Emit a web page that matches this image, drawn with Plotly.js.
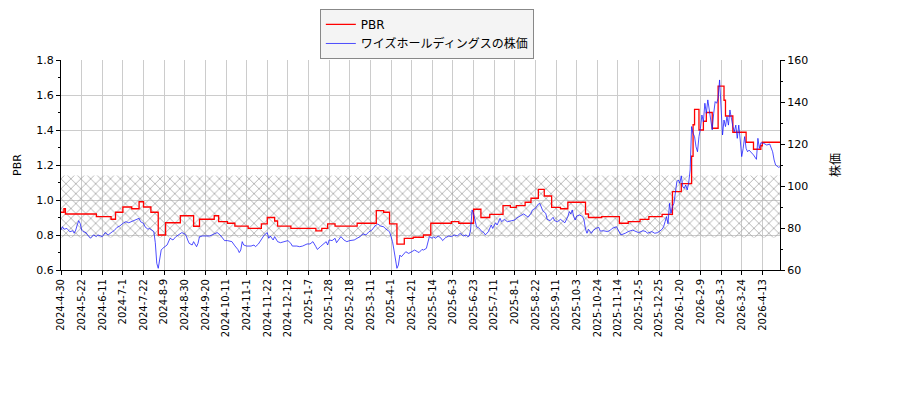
<!DOCTYPE html>
<html>
<head>
<meta charset="utf-8">
<script src="https://cdn.plot.ly/plotly-3.0.1.min.js"></script>
<style>
  body { margin: 0; background: #fff; }
  #chart { width: 900px; height: 400px; }
</style>
</head>
<body>
<div id="chart"></div>
<script>
// x axis is a trading-day index, one label every 14 trading days
const tickLabels = [
    '2024-4-30', '2024-5-22', '2024-6-11', '2024-7-1', '2024-7-22', '2024-8-9', '2024-8-30',
    '2024-9-20', '2024-10-11', '2024-11-1', '2024-11-22', '2024-12-12', '2025-1-7', '2025-1-28',
    '2025-2-18', '2025-3-11', '2025-4-1', '2025-4-21', '2025-5-14', '2025-6-3', '2025-6-23',
    '2025-7-11', '2025-8-1', '2025-8-22', '2025-9-11', '2025-10-3', '2025-10-24', '2025-11-14',
    '2025-12-5', '2025-12-25', '2026-1-20', '2026-2-9', '2026-3-3', '2026-3-24', '2026-4-13'
]
const tickStep = 14
const lastIdx = 488

// PBR steps: trading-day index where each level starts
const pbrIdx = [0, 2, 3, 24, 34, 37, 42, 48, 53, 56, 61, 66, 71, 81, 90, 94, 104, 107, 113, 118,
    127, 136, 140, 145, 147, 156, 173, 177, 181, 186, 201, 214, 219, 223, 228, 233, 239, 246, 251,
    265, 270, 280, 285, 291, 300, 305, 309, 315, 319, 324, 328, 333, 339, 344, 356, 358, 367, 379,
    385, 393, 399, 408, 415, 421, 428, 429, 430, 433, 436, 438, 442, 446, 450, 451, 456, 465, 470,
    475, 476, 488]
const pbr = [0.93, 0.95, 0.92, 0.905, 0.89, 0.93, 0.96, 0.95, 0.99, 0.96, 0.93, 0.80, 0.87, 0.91,
    0.85, 0.89, 0.91, 0.876, 0.867, 0.851, 0.838, 0.863, 0.90, 0.88, 0.851, 0.838, 0.823, 0.838,
    0.863, 0.851, 0.867, 0.939, 0.93, 0.863, 0.748, 0.781, 0.787, 0.80, 0.867, 0.876, 0.867, 0.947,
    0.90, 0.918, 0.968, 0.958, 0.968, 0.987, 1.01, 1.061, 1.023, 0.958, 0.95, 0.987, 0.92, 0.90,
    0.905, 0.867, 0.876, 0.889, 0.905, 0.918, 1.048, 1.093, 1.25, 1.43, 1.518, 1.40, 1.45, 1.50,
    1.41, 1.651, 1.57, 1.48, 1.387, 1.33, 1.29, 1.31, 1.33, 1.33]

// share price (right axis)
const priceIdx = [0, 1, 2, 4, 6, 8, 9, 10, 11, 12, 13, 14, 15, 17, 18, 20, 22, 24, 25, 28, 30, 32,
    35, 36, 38, 40, 42, 44, 46, 48, 50, 53, 54, 56, 57, 59, 60, 61, 63, 64, 65, 66, 67, 68, 69, 72,
    74, 76, 78, 80, 82, 84, 85, 86, 87, 89, 90, 92, 93, 94, 96, 99, 101, 104, 106, 108, 109, 111,
    113, 116, 118, 120, 121, 122, 123, 124, 126, 129, 131, 132, 134, 136, 138, 140, 141, 142, 144,
    145, 147, 149, 152, 154, 156, 157, 160, 162, 164, 167, 169, 171, 173, 174, 176, 178, 180, 181,
    182, 184, 186, 187, 189, 190, 192, 194, 196, 199, 201, 203, 205, 207, 209, 211, 213, 215, 217,
    219, 220, 223, 224, 225, 226, 227, 228, 229, 230, 231, 233, 234, 236, 238, 240, 242, 243, 245,
    246, 248, 249, 250, 252, 253, 254, 256, 258, 259, 261, 263, 265, 267, 269, 271, 273, 275, 276,
    277, 278, 279, 280, 281, 282, 284, 285, 287, 288, 290, 292, 293, 295, 296, 298, 299, 301, 302,
    303, 306, 308, 309, 311, 312, 314, 316, 317, 319, 320, 322, 324, 325, 326, 327, 329, 330, 332,
    334, 335, 337, 339, 340, 342, 344, 345, 346, 347, 348, 349, 350, 352, 354, 355, 356, 357, 358,
    360, 361, 363, 365, 366, 368, 371, 373, 374, 377, 379, 380, 383, 385, 388, 390, 392, 395, 397,
    398, 401, 403, 405, 408, 409, 410, 411, 412, 413, 414, 415, 416, 417, 418, 419, 420, 421, 422,
    423, 424, 425, 426, 427, 428, 429, 430, 431, 432, 433, 434, 435, 436, 437, 438, 439, 440, 441,
    442, 443, 444, 445, 446, 447, 448, 449, 450, 451, 452, 453, 454, 455, 456, 457, 458, 459, 460,
    461, 462, 463, 464, 465, 466, 467, 469, 470, 472, 473, 474, 475, 477, 479, 481, 482, 483, 484,
    485, 486, 487, 488]
const price = [79.0, 80.6, 79.4, 79.8, 78.2, 78.7, 77.5, 79.0, 81.4, 83.5, 82.2, 79.0, 78.3, 77.8,
    76.7, 75.1, 76.7, 75.9, 76.7, 75.9, 77.8, 76.7, 78.3, 78.7, 80.3, 81.0, 82.2, 83.0, 82.5, 83.0,
    83.8, 84.6, 83.0, 82.2, 80.6, 79.4, 79.8, 79.4, 78.3, 73.0, 63.2, 60.8, 65.5, 69.5, 70.3, 71.9,
    75.1, 74.3, 75.9, 76.7, 77.8, 77.2, 76.2, 74.3, 72.7, 71.9, 73.5, 71.1, 72.7, 75.9, 76.2, 76.2,
    76.2, 77.2, 77.8, 76.7, 75.9, 74.0, 74.0, 73.5, 71.5, 69.8, 68.3, 69.5, 73.5, 71.9, 71.4, 71.4,
    71.9, 71.1, 72.4, 74.3, 76.7, 77.8, 75.1, 76.2, 74.3, 75.9, 73.5, 73.0, 73.5, 74.0, 72.7, 71.4,
    71.4, 71.1, 71.4, 72.4, 72.4, 73.5, 71.1, 69.8, 71.1, 72.4, 73.5, 71.9, 74.3, 74.0, 75.1, 73.0,
    75.1, 75.9, 74.3, 73.5, 74.0, 74.3, 75.1, 75.9, 77.2, 76.7, 78.2, 79.0, 80.9, 81.9, 80.9, 80.6,
    79.8, 78.2, 75.9, 73.5, 69.5, 64.8, 60.8, 62.4, 67.1, 66.3, 67.9, 68.7, 67.9, 68.7, 69.5, 68.7,
    68.3, 69.8, 69.5, 70.3, 73.5, 75.9, 75.1, 75.9, 75.1, 76.2, 75.1, 74.0, 75.4, 76.2, 75.9, 76.7,
    76.2, 77.5, 76.2, 76.7, 75.9, 76.2, 79.0, 88.6, 87.0, 83.8, 80.6, 79.8, 78.7, 77.8, 76.7, 78.2,
    81.4, 79.8, 82.5, 81.4, 84.6, 83.0, 84.1, 83.5, 83.0, 83.5, 83.8, 84.6, 85.4, 86.2, 86.7, 85.7,
    85.1, 87.0, 88.6, 89.4, 91.4, 91.7, 90.2, 88.2, 87.0, 84.1, 83.5, 85.1, 83.5, 83.0, 84.1, 83.5,
    82.5, 85.4, 87.8, 86.7, 88.6, 85.4, 83.8, 85.7, 86.2, 85.4, 83.8, 79.4, 77.5, 79.4, 77.5, 78.7,
    79.8, 80.3, 78.5, 78.7, 78.3, 79.0, 79.8, 80.6, 78.3, 76.7, 77.5, 78.3, 79.0, 78.3, 77.8, 78.7,
    78.3, 77.5, 78.3, 77.5, 77.8, 79.4, 80.6, 83.0, 85.4, 82.0, 91.7, 87.0, 90.2, 91.7, 98.1, 102.1,
    102.9, 101.3, 104.8, 99.7, 98.9, 100.5, 98.1, 101.3, 107.6, 128.3, 125.1, 123.5, 118.7, 116.3,
    123.5, 127.5, 133.8, 130.6, 139.4, 134.6, 141.0, 136.2, 131.4, 126.7, 134.6, 140.2, 139.4, 141.8,
    150.5, 137.8, 124.3, 131.4, 128.3, 133.0, 129.0, 136.2, 131.4, 128.3, 125.9, 129.0, 122.7, 129.0,
    121.9, 114.0, 117.9, 123.5, 117.9, 116.3, 117.1, 115.6, 114.8, 112.7, 122.7, 117.9, 120.6, 120.3,
    119.5, 120.0, 117.9, 116.3, 112.4, 110.0, 109.5, 108.9, 109.2]

// hatched PBR band
const bandLow = 0.785
const bandHigh = 1.14

const tickVals = tickLabels.map((_, i) => i * tickStep)

const bandBase = {
    x: [0, lastIdx],
    y: [bandLow, bandLow],
    type: 'scatter',
    mode: 'lines',
    line: { width: 0, color: 'rgba(0,0,0,0)' },
    showlegend: false,
    hoverinfo: 'skip'
}
const bandTop = {
    x: [0, lastIdx],
    y: [bandHigh, bandHigh],
    type: 'scatter',
    mode: 'lines',
    line: { width: 0, color: 'rgba(0,0,0,0)' },
    fill: 'tonexty',
    fillcolor: 'rgba(0,0,0,0)',
    fillpattern: { shape: 'x', fgcolor: '#a0a0a0', bgcolor: 'rgba(0,0,0,0)', size: 7, solidity: 0.2 },
    showlegend: false,
    hoverinfo: 'skip'
}
const pbrTrace = {
    x: pbrIdx,
    y: pbr,
    type: 'scatter',
    mode: 'lines',
    name: 'PBR',
    line: { shape: 'hv', color: '#ff0000', width: 1.3 }
}
const priceTrace = {
    x: priceIdx,
    y: price,
    type: 'scatter',
    mode: 'lines',
    name: 'ワイズホールディングスの株価',
    yaxis: 'y2',
    line: { color: 'rgba(20,20,255,0.75)', width: 1 }
}

const layout = {
    width: 900,
    height: 400,
    margin: { l: 61, r: 120, t: 60, b: 130, autoexpand: false },
    paper_bgcolor: '#fff',
    plot_bgcolor: '#fff',
    font: { family: 'DejaVu Sans, Noto Sans CJK JP', size: 11, color: '#000' },
    showlegend: true,
    legend: {
        x: 0.36, y: 1.243, xanchor: 'left', yanchor: 'top',
        traceorder: 'normal',
        bgcolor: '#f4f4f4', bordercolor: '#888', borderwidth: 1,
        font: { size: 12 },
        itemwidth: 30,
        tracegroupgap: 0
    },
    xaxis: {
        range: [0, lastIdx],
        tickmode: 'array',
        tickvals: tickVals,
        ticktext: tickLabels,
        tickangle: -90,
        tickfont: { size: 10 },
        ticks: 'outside', ticklen: 4, tickcolor: '#000',
        showgrid: true, gridcolor: '#cccccc', gridwidth: 1,
        showline: true, linecolor: '#000', linewidth: 1,
        zeroline: false
    },
    yaxis: {
        range: [0.6, 1.8],
        tick0: 0.6, dtick: 0.2, tickformat: '.1f',
        ticks: 'outside', ticklen: 4, tickcolor: '#000',
        minor: { dtick: 0.1, ticks: 'outside', ticklen: 2, tickcolor: '#000', showgrid: false },
        showgrid: true, gridcolor: '#cccccc', gridwidth: 1,
        showline: true, linecolor: '#000', linewidth: 1,
        zeroline: false,
        title: { text: 'PBR', font: { size: 11 }, standoff: 12 }
    },
    yaxis2: {
        overlaying: 'y',
        side: 'right',
        range: [60, 160],
        tick0: 60, dtick: 20,
        ticks: 'outside', ticklen: 4, tickcolor: '#000',
        minor: { dtick: 10, ticks: 'outside', ticklen: 2, tickcolor: '#000', showgrid: false },
        showgrid: false,
        showline: true, linecolor: '#000', linewidth: 1,
        zeroline: false,
        title: { text: '株価', font: { size: 12 }, standoff: 24 }
    }
}

Plotly.newPlot('chart', [bandBase, bandTop, pbrTrace, priceTrace], layout, { staticPlot: true })
</script>
</body>
</html>
